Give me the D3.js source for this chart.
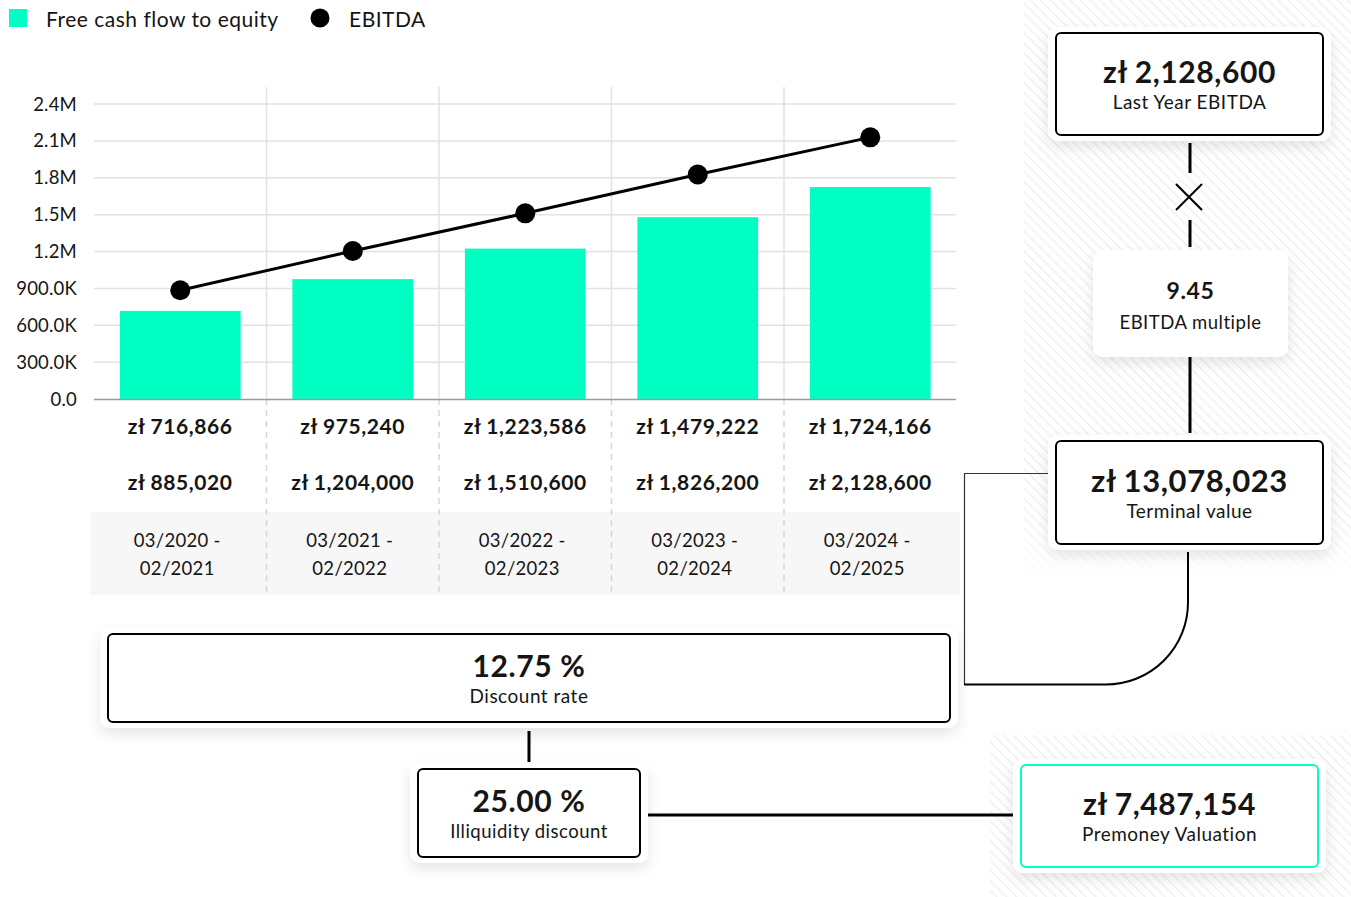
<!DOCTYPE html>
<html>
<head>
<meta charset="utf-8">
<script src="https://cdn.jsdelivr.net/npm/d3@7"></script>
<style>
  body { margin: 0; background: #fff; }
  svg { display: block; font-family: Lato, "Noto Sans", sans-serif; letter-spacing: 0.5px; }
</style>
</head>
<body>
<svg width="1351" height="897"></svg>
<script>
// data
const periods = [["03/2020 -", "02/2021"], ["03/2021 -", "02/2022"], ["03/2022 -", "02/2023"], ["03/2023 -", "02/2024"], ["03/2024 -", "02/2025"]]
const fcfe = [716866, 975240, 1223586, 1479222, 1724166]
const ebitda = [885020, 1204000, 1510600, 1826200, 2128600]
const yTicks = [0, 300000, 600000, 900000, 1200000, 1500000, 1800000, 2100000, 2400000]
const legendKeys = ["Free cash flow to equity", "EBITDA"]

const lastYearEbitda = 2128600
const ebitdaMultiple = 9.45
const terminalValue = 13078023
const discountRate = 12.75
const illiquidityDiscount = 25.00
const premoneyValuation = 7487154

const teal = "#00FFC2"
const ink = "#151515"

const svg = d3.select("svg")
const money = v => "zł " + d3.format(",")(v)
const tickFmt = v => v >= 1e6 ? (v / 1e6).toFixed(1) + "M" : v >= 1e3 ? (v / 1e3).toFixed(1) + "K" : v.toFixed(1)

const defs = svg.append("defs")
const hatch = defs.append("pattern")
	.attr("id", "hatch")
	.attr("patternUnits", "userSpaceOnUse")
	.attr("width", 7).attr("height", 7)
	.attr("patternTransform", "rotate(-45)")
hatch.append("rect").attr("width", 7).attr("height", 7).attr("fill", "#fff")
hatch.append("line").attr("x1", 0).attr("y1", 0).attr("x2", 0).attr("y2", 7)
	.attr("stroke", "#eeeeee").attr("stroke-width", 2.5)

const shadow = defs.append("filter").attr("id", "shadow")
	.attr("x", "-20%").attr("y", "-30%").attr("width", "140%").attr("height", "170%")
shadow.append("feDropShadow").attr("dx", 0).attr("dy", 6).attr("stdDeviation", 7)
	.attr("flood-color", "#000").attr("flood-opacity", 0.1)

const fade = defs.append("linearGradient").attr("id", "fadeY").attr("x1", 0).attr("x2", 0).attr("y1", 0).attr("y2", 1)
fade.append("stop").attr("offset", "0.9").attr("stop-color", "#fff")
fade.append("stop").attr("offset", "1").attr("stop-color", "#000")
defs.append("mask").attr("id", "fadeMask").append("rect")
	.attr("x", 1000).attr("y", 0).attr("width", 351).attr("height", 580).attr("fill", "url(#fadeY)")

// hatched backgrounds on the right
svg.append("rect").attr("x", 1024).attr("y", 0).attr("width", 327).attr("height", 578)
	.attr("fill", "url(#hatch)").attr("mask", "url(#fadeMask)")
svg.append("rect").attr("x", 990).attr("y", 735).attr("width", 361).attr("height", 162)
	.attr("fill", "url(#hatch)")

// legend
const legend = svg.append("g")
legend.append("rect").attr("x", 9).attr("y", 9).attr("width", 18).attr("height", 18).attr("fill", teal)
legend.append("text").attr("x", 46).attr("y", 27).attr("font-size", 21).attr("fill", ink).text(legendKeys[0])
legend.append("circle").attr("cx", 320).attr("cy", 18).attr("r", 9.5).attr("fill", "#000")
legend.append("text").attr("x", 349).attr("y", 27).attr("font-size", 21).attr("fill", ink).text(legendKeys[1])

// scales
const x = d3.scaleBand().domain(d3.range(fcfe.length)).range([94, 956.5]).paddingInner(0.3).paddingOuter(0.15)
const y = d3.scaleLinear().domain([0, 2400000]).range([399, 104])
const step = x.step()
const x0 = 94

// date row background
svg.append("rect").attr("x", 90).attr("y", 512).attr("width", 870).attr("height", 83).attr("fill", "#f7f7f7")

// horizontal grid
svg.append("g").selectAll("line").data(yTicks.slice(1)).join("line")
	.attr("x1", 94).attr("x2", 956).attr("y1", d => y(d)).attr("y2", d => y(d))
	.attr("stroke", "#e2e2e2").attr("stroke-width", 1.5)

// column dividers
const dividers = d3.range(1, fcfe.length).map(i => x0 + i * step)
svg.append("g").selectAll("line").data(dividers).join("line")
	.attr("x1", d => d).attr("x2", d => d).attr("y1", 87).attr("y2", 399)
	.attr("stroke", "#e2e2e2").attr("stroke-width", 1.5)
svg.append("g").selectAll("line").data(dividers).join("line")
	.attr("x1", d => d).attr("x2", d => d).attr("y1", 399).attr("y2", 595)
	.attr("stroke", "#d6d6d6").attr("stroke-width", 1.5).attr("stroke-dasharray", "6,5")

// y axis labels
svg.append("g").selectAll("text").data(yTicks).join("text")
	.attr("x", 77).attr("y", d => y(d) + 6.5).attr("text-anchor", "end")
	.attr("font-size", 18.5).attr("letter-spacing", 0.2).attr("fill", ink).text(tickFmt)

// bars
svg.append("g").selectAll("rect").data(fcfe).join("rect")
	.attr("x", (d, i) => x(i)).attr("width", x.bandwidth())
	.attr("y", d => y(d)).attr("height", d => y(0) - y(d))
	.attr("fill", teal)

// baseline
svg.append("line").attr("x1", 94).attr("x2", 956).attr("y1", 399.5).attr("y2", 399.5)
	.attr("stroke", "#9a9a9a").attr("stroke-width", 1.5)

// EBITDA line
const line = d3.line().x((d, i) => x(i) + x.bandwidth() / 2).y(d => y(d))
svg.append("path").datum(ebitda).attr("d", line).attr("fill", "none").attr("stroke", "#000").attr("stroke-width", 3)
svg.append("g").selectAll("circle").data(ebitda).join("circle")
	.attr("cx", (d, i) => x(i) + x.bandwidth() / 2).attr("cy", d => y(d)).attr("r", 10).attr("fill", "#000")

// value rows
const cx = i => x(i) + x.bandwidth() / 2
svg.append("g").selectAll("text").data(fcfe).join("text")
	.attr("x", (d, i) => cx(i)).attr("y", 434).attr("text-anchor", "middle")
	.attr("font-size", 21).attr("letter-spacing", 0.6).attr("font-weight", "bold").attr("fill", ink).text(money)
svg.append("g").selectAll("text").data(ebitda).join("text")
	.attr("x", (d, i) => cx(i)).attr("y", 490).attr("text-anchor", "middle")
	.attr("font-size", 21).attr("letter-spacing", 0.6).attr("font-weight", "bold").attr("fill", ink).text(money)
const dates = svg.append("g").selectAll("text").data(periods).join("text")
	.attr("text-anchor", "middle").attr("font-size", 18.5).attr("letter-spacing", 0.3).attr("fill", ink)
dates.append("tspan").attr("x", (d, i) => cx(i) - 3).attr("y", 547).text(d => d[0])
dates.append("tspan").attr("x", (d, i) => cx(i) - 3).attr("y", 575).text(d => d[1])

// connectors
const conn = svg.append("g").attr("fill", "none").attr("stroke", "#000")
conn.append("line").attr("x1", 1190).attr("x2", 1190).attr("y1", 143).attr("y2", 173).attr("stroke-width", 3)
conn.append("path").attr("d", "M1176,184L1202,210M1202,184L1176,210").attr("stroke-width", 2)
conn.append("line").attr("x1", 1190).attr("x2", 1190).attr("y1", 220).attr("y2", 247).attr("stroke-width", 3)
conn.append("line").attr("x1", 1190).attr("x2", 1190).attr("y1", 357).attr("y2", 433).attr("stroke-width", 3)
conn.append("path").attr("d", "M1048,473.5H964.5V684.5").attr("stroke-width", 1.2).attr("stroke", "#333")
conn.append("path").attr("d", "M964,684.5H1106A82,82 0 0 0 1188,602.5V552").attr("stroke-width", 2)
conn.append("line").attr("x1", 529).attr("x2", 529).attr("y1", 731).attr("y2", 762).attr("stroke-width", 3)
conn.append("line").attr("x1", 646).attr("x2", 1014).attr("y1", 815).attr("y2", 815).attr("stroke-width", 3)

// summary boxes
const boxes = [
	{ x: 1056, y: 33, w: 267, h: 102, value: money(lastYearEbitda), label: "Last Year EBITDA", vs: 30, ls: 19, stroke: "#000", pad: 8, dy: 0 },
	{ x: 1093, y: 250, w: 195, h: 107, value: d3.format(".2f")(ebitdaMultiple), label: "EBITDA multiple", vs: 23, ls: 18.5, stroke: "none", rx: 10, pad: 0, dy: -4 },
	{ x: 1056, y: 441, w: 267, h: 103, value: money(terminalValue), label: "Terminal value", vs: 31, ls: 19, stroke: "#000", pad: 8, dy: 0 },
	{ x: 108, y: 634, w: 842, h: 88, value: d3.format(".2f")(discountRate) + " %", label: "Discount rate", vs: 30, ls: 19, stroke: "#000", pad: 8, dy: 0 },
	{ x: 418, y: 769, w: 222, h: 88, value: d3.format(".2f")(illiquidityDiscount) + " %", label: "Illiquidity discount", vs: 30, ls: 18.5, stroke: "#000", pad: 8, dy: 0 },
	{ x: 1021, y: 765, w: 297, h: 102, value: money(premoneyValuation), label: "Premoney Valuation", vs: 30, ls: 19, stroke: teal, pad: 8, dy: 0 }
]
const box = svg.append("g").selectAll("g").data(boxes).join("g")
box.append("rect").attr("x", d => d.x - d.pad).attr("y", d => d.y - d.pad * 0.75)
	.attr("width", d => d.w + d.pad * 2).attr("height", d => d.h + d.pad * 1.5)
	.attr("rx", 10).attr("fill", "#fff").attr("filter", "url(#shadow)")
box.append("rect").attr("x", d => d.x).attr("y", d => d.y).attr("width", d => d.w).attr("height", d => d.h)
	.attr("rx", d => d.rx || 5).attr("fill", "#fff").attr("stroke", d => d.stroke).attr("stroke-width", 2)
box.append("text").attr("x", d => d.x + d.w / 2).attr("y", d => d.y + d.h / 2 - 1 + d.dy)
	.attr("text-anchor", "middle").attr("font-size", d => d.vs).attr("letter-spacing", 0.6)
	.attr("font-weight", "bold").attr("fill", ink)
	.text(d => d.value)
box.append("text").attr("x", d => d.x + d.w / 2).attr("y", d => d.y + d.h / 2 + 25)
	.attr("text-anchor", "middle").attr("font-size", d => d.ls).attr("letter-spacing", 0.5).attr("fill", ink)
	.text(d => d.label)
</script>
</body>
</html>
